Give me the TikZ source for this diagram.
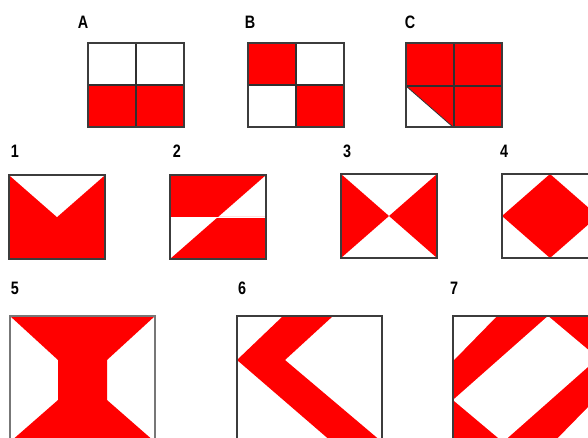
\documentclass[tikz,border=0pt]{standalone}
\usepackage{fontspec}
\setmainfont{Liberation Sans}
\usepackage{xcolor}
\usepackage{tikz}
\definecolor{flagred}{RGB}{255,0,0}
\definecolor{rim}{RGB}{60,60,60}
\newcommand{\narrowlbl}[1]{\scalebox{0.8}[1]{#1}}

\begin{document}
\begin{tikzpicture}[x=1pt,y=-1pt,
    every node/.style={font=\fontsize{18}{18}\selectfont\bfseries},
    frame/.style={draw=rim,line width=1.3pt},
    grid/.style={draw=rim!80!black,line width=1.2pt},
    cut/.style={draw=white,line width=0.7pt}]
    \useasboundingbox (0,0) rectangle (588,438);
    \clip (0,0) rectangle (588,438);

    % Row of examples
    \node (labA) at (83,22) {\narrowlbl{A}};
    \node (labB) at (250,22) {\narrowlbl{B}};
    \node (labC) at (410,22) {\narrowlbl{C}};

    \fill[flagred] (88,85) rectangle (184,127);
    \draw[grid] (88,85) -- (184,85) (136,43) -- (136,127);
    \draw[frame] (88,43) rectangle (184,127);

    \fill[flagred] (248,43) rectangle (296,85);
    \fill[flagred] (296,85) rectangle (344,127);
    \draw[grid] (248,85) -- (344,85) (296,43) -- (296,127);
    \draw[frame] (248,43) rectangle (344,127);

    \fill[flagred] (406,43) rectangle (502,127);
    \fill[white] (406,86) -- (453,127) -- (406,127) -- cycle;
    \draw[grid] (406,86) -- (502,86) (454,43) -- (454,127);
    \draw[grid,line width=0.8pt] (406,86) -- (453,127);
    \draw[frame] (406,43) rectangle (502,127);

    % Row 1 to 4
    \node (lab1) at (15,151) {\narrowlbl{1}};
    \node (lab2) at (177,151) {\narrowlbl{2}};
    \node (lab3) at (347,151) {\narrowlbl{3}};
    \node (lab4) at (504,151) {\narrowlbl{4}};

    \fill[flagred] (9,175) rectangle (105,259);
    \fill[white] (9,175) -- (105,175) -- (57,217) -- cycle;
    \draw[frame] (9,175) rectangle (105,259);

    \fill[flagred] (170,175) -- (266,175) -- (218,217) -- (170,217) -- cycle;
    \fill[flagred] (218,217) -- (266,217) -- (266,259) -- (170,259) -- cycle;
    \draw[cut] (170,217) -- (266,217);
    \draw[frame] (170,175) rectangle (266,259);

    \fill[flagred] (341,174) -- (389,216) -- (341,258) -- cycle;
    \fill[flagred] (437,174) -- (389,216) -- (437,258) -- cycle;
    \draw[frame] (341,174) rectangle (437,258);

    \fill[flagred] (502,216) -- (550,174) -- (598,216) -- (550,258) -- cycle;
    \draw[frame] (502,174) rectangle (598,258);

    % Row 5 to 7
    \node (lab5) at (15,288) {\narrowlbl{5}};
    \node (lab6) at (242,288) {\narrowlbl{6}};
    \node (lab7) at (454,288) {\narrowlbl{7}};

    \fill[flagred] (10,316) -- (155,316) -- (107,360) -- (107,400)
      -- (155,442) -- (10,442) -- (58,400) -- (58,360) -- cycle;
    \draw[frame,rim!70] (10,316) rectangle (155,442);

    \fill[flagred] (237,360) -- (283,316) -- (333,316) -- (285,360)
      -- (382,442) -- (332,442) -- cycle;
    \draw[frame] (237,316) rectangle (382,442);

    \fill[flagred] (453,316) rectangle (598,442);
    \fill[white] (453,316) -- (497,316) -- (453,361) -- cycle;
    \fill[white] (598,442) -- (554,442) -- (598,397) -- cycle;
    \fill[white] (453,400) -- (548,316) -- (598,358) -- (503,442) -- cycle;
    \draw[frame] (453,316) rectangle (598,442);
\end{tikzpicture}
\end{document}
